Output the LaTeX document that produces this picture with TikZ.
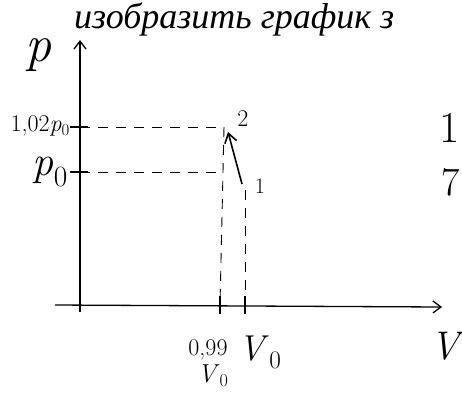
\documentclass[tikz,border=0pt]{standalone}
\usepackage{fontspec}
\newfontfamily\cyr{Liberation Serif}
\usetikzlibrary{arrows.meta}
\tikzset{
  axis/.style={line width=1.3pt, -{Straight Barb[length=8pt,width=12pt]}},
  guide/.style={line width=0.9pt, dash pattern=on 10pt off 8pt},
  hand/.style={inner sep=0pt},
  tickmark/.style={line width=1.1pt},
  proc/.style={line width=1.6pt, -{Straight Barb[length=9pt,width=12pt]}}
}
\newcommand{\fsz}[1]{\fontsize{#1}{#1}\selectfont}
\begin{document}
\begin{tikzpicture}[x=1pt,y=-1pt]
\useasboundingbox (0,0) rectangle (462,405);
% axes
\coordinate (ytop) at (80,40);
\coordinate (ybot) at (80,312);
\coordinate (xleft) at (55,305);
\coordinate (xend) at (442,307);
\draw[axis] (ybot) -- (ytop);
\draw[axis] (xleft) -- (xend);
% axis labels
\node[hand, font=\itshape\fsz{52}] (plab) at (38,55) {p};
\node[hand, anchor=east, font=\itshape\fsz{40}] (vlab) at (460,346) {V};
% top text
\node[anchor=base west, inner sep=0pt, font=\cyr\itshape\fsz{36}] (title) at (74,28) {изобразить график з};
% right margin text
\node[anchor=east, inner sep=0pt, font=\fsz{44}] (r1) at (460,128) {1};
\node[anchor=east, inner sep=0pt, font=\fsz{40}] (r2) at (460,182) {7};
% points
\coordinate (P2) at (224,127);
\coordinate (P1) at (242,184);
\coordinate (ty1) at (80,127);
\coordinate (ty0) at (80,172);
\coordinate (tx2) at (220,305);
\coordinate (tx1) at (245,305);
% ticks on p axis
\draw[tickmark] (70,127) -- (88,127);
\draw[tickmark] (70,172) -- (88,172);
% ticks on V axis
\draw[tickmark] (220,296) -- (220,314);
\draw[tickmark] (245,296) -- (245,314);
% dashed guides
\draw[guide] (ty1) -- (P2);
\draw[guide] (ty0) -- (222,172);
\draw[guide] (P2) -- (tx2);
\draw[guide] (245,190) -- (tx1);
% process arrow 1 -> 2
\draw[proc] (P1) -- (228,132);
% labels
\node[hand, font=\fsz{24}] (l2) at (243,119) {2};
\node[hand, font=\fsz{22}] (l1) at (260,186) {1};
\node[hand, anchor=east, font=\fsz{24}] (lp1) at (70,126) {1,02\textit{p}\textsubscript{0}};
\node[hand, anchor=east, font=\fsz{42}] (lp0) at (68,172) {\textit{p}\textsubscript{0}};
\node[hand, font=\fsz{24}] (lx2) at (208,350) {0,99};
\node[hand, font=\fsz{26}] (lx2b) at (213,376) {\textit{V}\textsubscript{0}};
\node[hand, font=\fsz{36}] (lx1) at (260,352) {\textit{V}\textsubscript{0}};
\end{tikzpicture}
\end{document}
